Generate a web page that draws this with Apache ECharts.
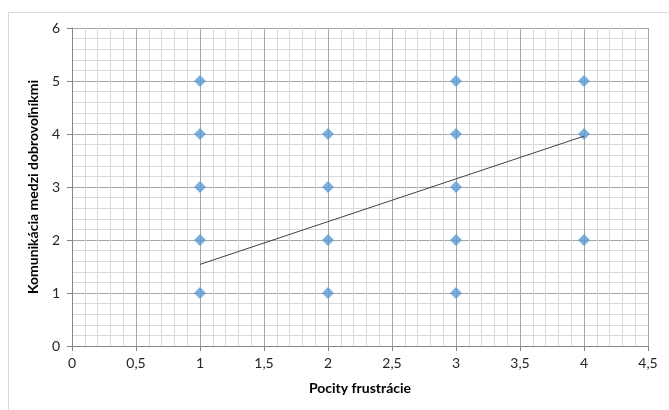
<!DOCTYPE html>
<html>
<head>
<meta charset="utf-8">
<script src="https://cdn.jsdelivr.net/npm/echarts@6/dist/echarts.min.js"></script>
<style>html,body{margin:0;padding:0;background:#fff}#c{width:669px;height:410px}</style>
</head>
<body>
<div id="c"></div>
<script>
var xTitle = 'Pocity frustrácie';
var yTitle = 'Komunikácia medzi dobrovoľníkmi';
var pointX = [1, 1, 1, 1, 1, 2, 2, 2, 2, 3, 3, 3, 3, 3, 4, 4, 4];
var pointY = [5, 4, 3, 2, 1, 4, 3, 2, 1, 5, 4, 3, 2, 1, 5, 4, 2];
var trendX = [1, 4];
var trendY = [1.54, 3.96];

var chart = echarts.init(document.getElementById('c'), null, {renderer: 'canvas'});
var font = 'Lato, "Open Sans", sans-serif';
var pts = pointX.map(function (x, i) { return [x, pointY[i]]; });
var tr = trendX.map(function (x, i) { return [x, trendY[i]]; });

chart.setOption({
  animation: false,
  graphic: [{
    type: 'rect', shape: {x: 8.5, y: 12.5, width: 680, height: 420},
    style: {fill: 'none', stroke: '#d9d9d9', lineWidth: 1}, z: -1
  }],
  grid: {left: 72, right: 21, top: 28, bottom: 64, containLabel: false},
  xAxis: {
    type: 'value', min: 0, max: 4.5, interval: 0.5,
    name: xTitle, nameLocation: 'middle', nameGap: 35,
    nameTextStyle: {fontFamily: font, fontSize: 14, fontWeight: 'bold', color: '#000'},
    axisLine: {show: true, lineStyle: {color: '#868686'}},
    axisTick: {show: true, length: 5, lineStyle: {color: '#868686'}},
    axisLabel: {fontFamily: font, fontSize: 14, color: '#262626', margin: 10,
      formatter: function (v) { return String(v).replace('.', ','); }},
    splitLine: {show: true, lineStyle: {color: '#a6a6a6', width: 1}},
    minorTick: {show: false, splitNumber: 5},
    minorSplitLine: {show: true, lineStyle: {color: '#d9d9d9', width: 1}}
  },
  yAxis: {
    type: 'value', min: 0, max: 6, interval: 1,
    name: yTitle, nameLocation: 'middle', nameGap: 28, nameRotate: 90,
    nameTextStyle: {fontFamily: font, fontSize: 14, fontWeight: 'bold', color: '#000'},
    axisLine: {show: true, lineStyle: {color: '#868686'}},
    axisTick: {show: true, length: 5, lineStyle: {color: '#868686'}},
    axisLabel: {fontFamily: font, fontSize: 14, color: '#262626', margin: 12},
    splitLine: {show: true, lineStyle: {color: '#a6a6a6', width: 1}},
    minorTick: {show: false, splitNumber: 5},
    minorSplitLine: {show: true, lineStyle: {color: '#d9d9d9', width: 1}}
  },
  series: [{
    type: 'scatter', data: pts, symbol: 'diamond', symbolSize: 12,
    itemStyle: {color: '#5b9bd5'}, z: 3
  }, {
    type: 'line', data: tr, showSymbol: false, symbol: 'none',
    lineStyle: {color: '#404040', width: 1}, z: 4
  }]
});
</script>
</body>
</html>
